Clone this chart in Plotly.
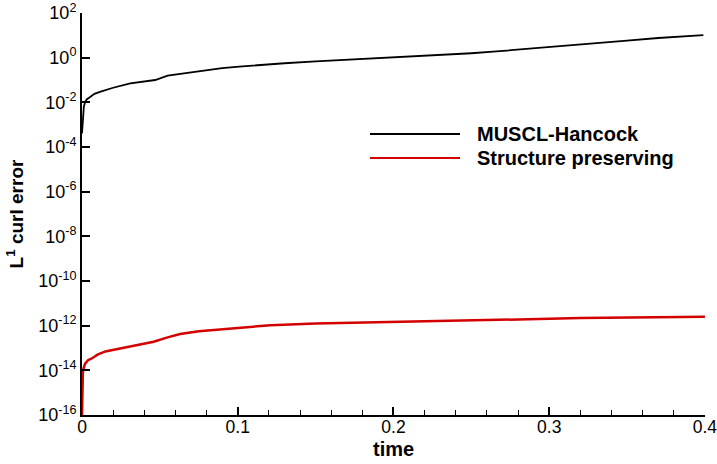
import plotly.graph_objects as go

# MUSCL-Hancock L1 curl error
muscl_t = [0.0, 0.0006, 0.0012, 0.002, 0.003, 0.005, 0.008, 0.012, 0.02, 0.031,
           0.040, 0.047, 0.055, 0.065, 0.076, 0.09, 0.101, 0.114, 0.13, 0.15,
           0.17, 0.19, 0.211, 0.23, 0.25, 0.264, 0.28, 0.307, 0.33, 0.35,
           0.37, 0.39, 0.399]
muscl_err = [4.0e-4, 3.2e-3, 6.5e-3, 1.0e-2, 1.35e-2, 1.7e-2, 2.4e-2, 3.0e-2, 4.5e-2, 7.1e-2,
             8.5e-2, 1.0e-1, 1.58e-1, 2.0e-1, 2.63e-1, 3.39e-1, 3.98e-1, 4.68e-1, 5.62e-1, 6.76e-1,
             7.94e-1, 9.12e-1, 1.10, 1.32, 1.58, 1.86, 2.29, 3.09, 4.27, 5.75,
             7.59, 9.33, 10.2]

# Structure preserving L1 curl error
sp_t = [0.0, 0.0003, 0.0006, 0.002, 0.004, 0.006, 0.01, 0.015, 0.024, 0.035,
        0.046, 0.055, 0.063, 0.075, 0.089, 0.105, 0.121, 0.15, 0.18, 0.21,
        0.243, 0.28, 0.32, 0.36, 0.40]
sp_err = [1.0e-16, 1.0e-15, 1.0e-14, 2.0e-14, 2.9e-14, 3.3e-14, 5.0e-14, 7.0e-14, 9.5e-14, 1.35e-13,
          1.9e-13, 3.0e-13, 4.2e-13, 5.6e-13, 6.9e-13, 8.9e-13, 1.05e-12, 1.26e-12, 1.41e-12, 1.55e-12,
          1.66e-12, 1.9e-12, 2.19e-12, 2.4e-12, 2.5e-12]

series_names = ["MUSCL-Hancock", "Structure preserving"]
series_colors = ["black", "#d40000"]

x_ticks = [0, 0.1, 0.2, 0.3, 0.4]
x_ticktext = ["0", "0.1", "0.2", "0.3", "0.4"]
y_exponents = [-16, -14, -12, -10, -8, -6, -4, -2, 0, 2]
y_ticks = [10.0 ** e for e in y_exponents]
y_ticktext = ["10<sup>%d</sup>" % e for e in y_exponents]

FONT = "Liberation Sans"

fig = go.Figure()
fig.add_trace(go.Scatter(x=muscl_t, y=muscl_err, mode="lines", name=series_names[0],
                         line=dict(color=series_colors[0], width=1.8), showlegend=False))
fig.add_trace(go.Scatter(x=sp_t, y=sp_err, mode="lines", name=series_names[1],
                         line=dict(color=series_colors[1], width=2.5), showlegend=False))

# legend drawn as key lines + text (paper coordinates)
PL, PW, PB, PH = 82, 623, 415, 402
legend_rows_px = [134, 158]
for name, color, row in zip(series_names, series_colors, legend_rows_px):
    yp = (PB - row) / PH
    fig.add_shape(type="line", xref="paper", yref="paper",
                  x0=(370 - PL) / PW, x1=(460 - PL) / PW, y0=yp, y1=yp,
                  line=dict(color=color, width=1.8))
    fig.add_annotation(xref="paper", yref="paper", x=(475 - PL) / PW, y=yp,
                       xanchor="left", yanchor="middle", showarrow=False,
                       text="<b>%s</b>" % name,
                       font=dict(family=FONT, size=20, color="black"))

# x-axis title as annotation for exact placement
fig.add_annotation(xref="paper", yref="paper", x=0.5, y=(PB - 449) / PH,
                   xanchor="center", yanchor="middle", showarrow=False,
                   text="<b>time</b>", font=dict(family=FONT, size=20, color="black"))

fig.update_layout(
    width=717, height=464,
    margin=dict(l=82, r=12, t=13, b=49),
    paper_bgcolor="white", plot_bgcolor="white",
    font=dict(family=FONT, color="black", size=17.5),
    showlegend=False,
    xaxis=dict(range=[0, 0.40005], tickvals=x_ticks, ticktext=x_ticktext,
               automargin=False, ticklabeloverflow="allow", ticklabelstandoff=-5,
               showline=True, linewidth=2, linecolor="black", mirror=False,
               ticks="inside", ticklen=8, tickwidth=1.5, tickcolor="black",
               showgrid=False, zeroline=False,
               tickfont=dict(size=17.5),
               minor=dict(dtick=0.02, ticks="inside", ticklen=5, tickwidth=1, tickcolor="black", showgrid=False)),
    yaxis=dict(type="log", range=[-16, 2.0005], tickvals=y_ticks, ticktext=y_ticktext,
               automargin=False, ticklabeloverflow="allow",
               showline=True, linewidth=2, linecolor="black", mirror=False,
               ticks="inside", ticklen=8, tickwidth=1.5, tickcolor="black",
               showgrid=False, zeroline=False,
               tickfont=dict(size=18),
               title=dict(text="<b>L<sup>1</sup> curl error</b>", font=dict(size=19), standoff=10)),
)

fig.write_html("out.html")
